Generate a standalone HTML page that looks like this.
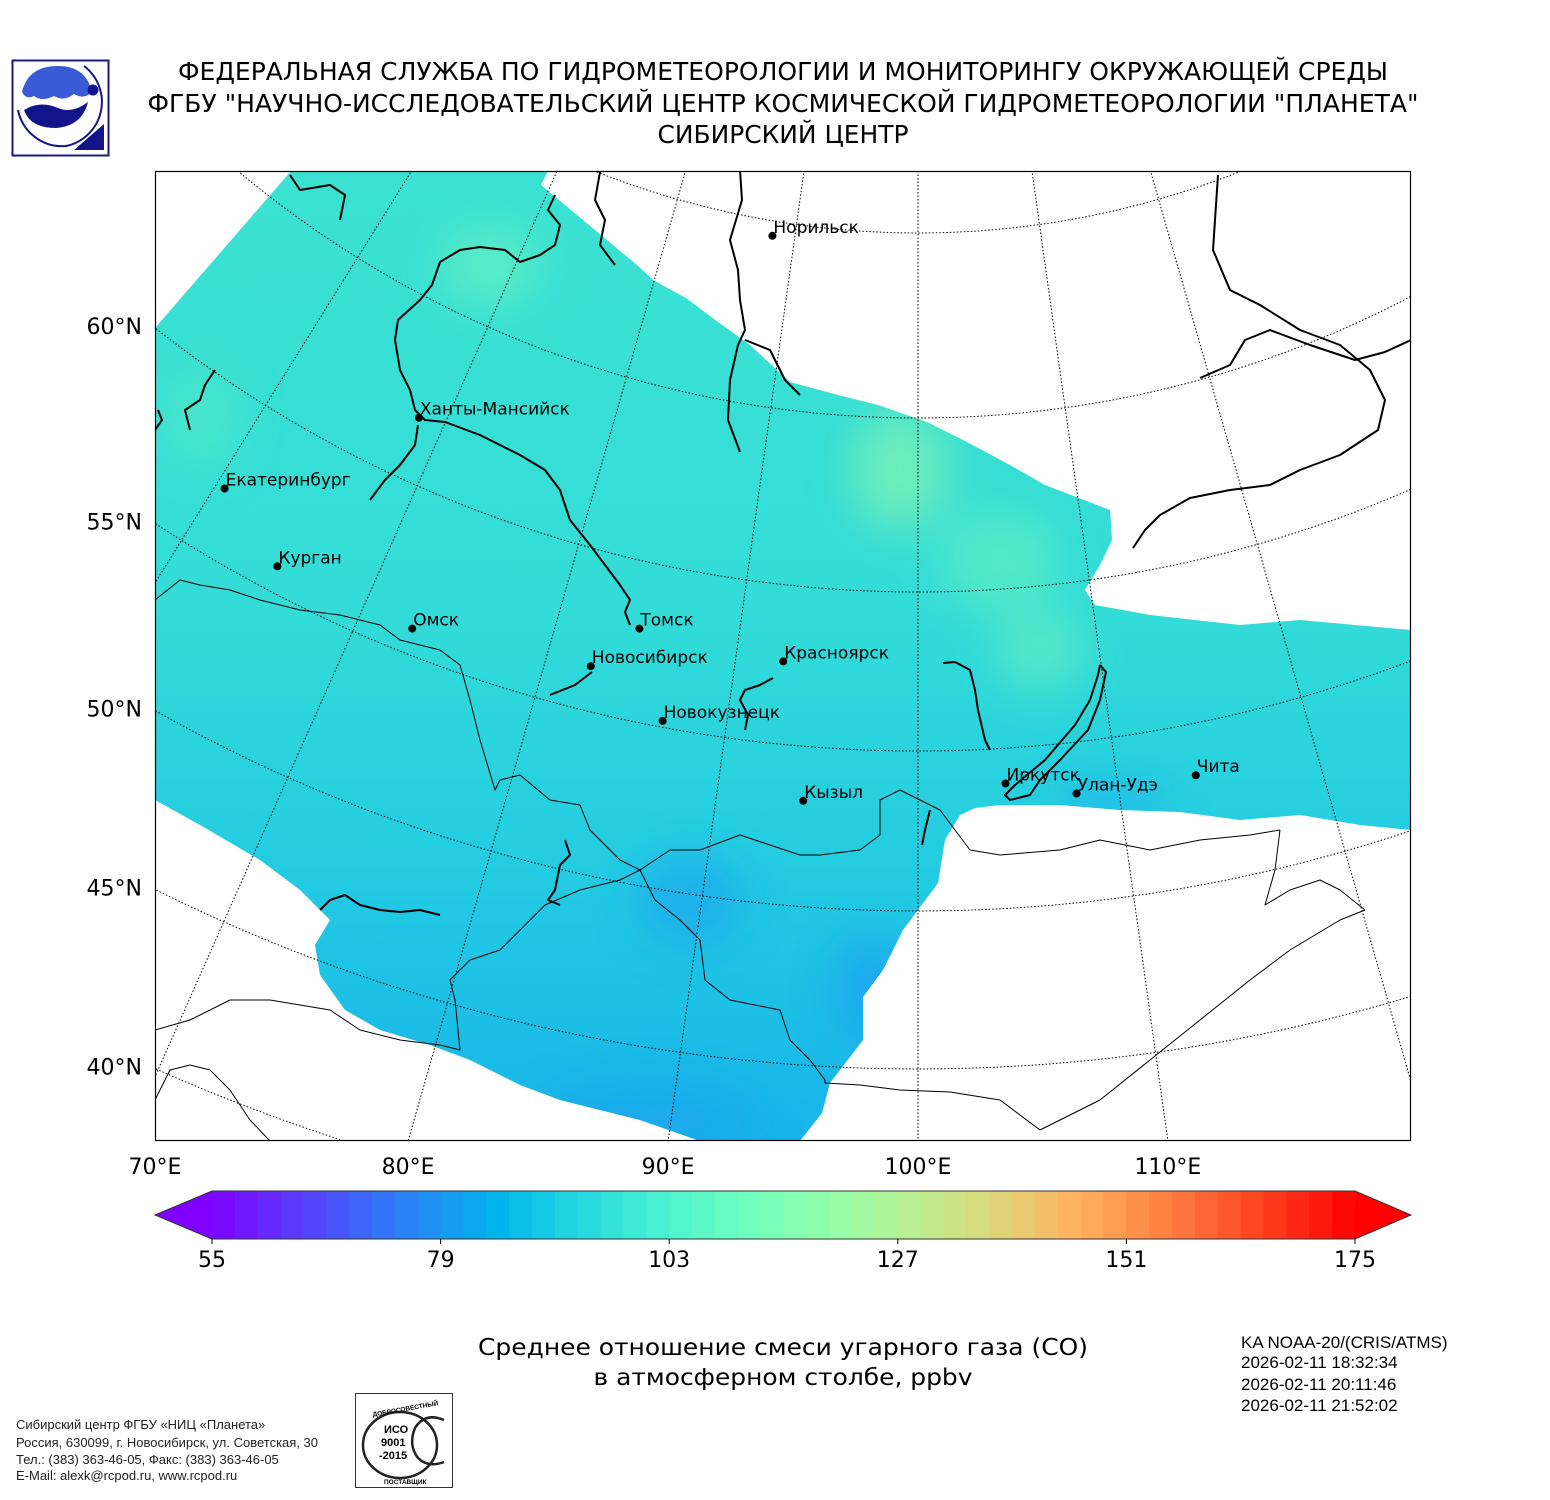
<!DOCTYPE html>
<html><head><meta charset="utf-8">
<style>
html,body{margin:0;padding:0;background:#fff;}
body{width:1550px;height:1500px;overflow:hidden;position:relative;}
svg{position:absolute;left:0;top:0;}
</style></head>
<body>
<svg id="chart" width="1550" height="1500" viewBox="0 0 1550 1500" xmlns="http://www.w3.org/2000/svg">
<defs>
  <linearGradient id="fieldGrad" x1="0" y1="171" x2="0" y2="1141" gradientUnits="userSpaceOnUse">
    <stop offset="0" stop-color="#3be2d2"/>
    <stop offset="0.45" stop-color="#33dcd7"/>
    <stop offset="0.7" stop-color="#24cde1"/>
    <stop offset="1" stop-color="#17b4ea"/>
  </linearGradient>
  <filter id="blur" x="-50%" y="-50%" width="200%" height="200%"><feGaussianBlur stdDeviation="22"/></filter>
  <clipPath id="mapClip"><rect x="155" y="171" width="1256" height="970"/></clipPath>
  <clipPath id="fieldClip"><path id="fieldPathClip" d=""/></clipPath>
</defs>

<g>
  <rect x="12.5" y="60.5" width="96" height="95" fill="#fff" stroke="#1a1a80" stroke-width="2"/>
  <path d="M22 92 Q28 66 58 66 Q86 66 92 92 Q84 100 74 94 Q64 102 54 96 Q42 102 34 96 Q26 100 22 92 Z" fill="#3a5ad8"/>
  <path d="M24 110 Q40 100 58 108 Q72 114 88 102 Q82 126 56 128 Q30 128 24 110 Z" fill="#14148a"/>
  <path d="M84 66 A45 45 0 0 1 66 146 A45 45 0 0 1 18 110" fill="none" stroke="#14148a" stroke-width="2"/>
  <circle cx="93" cy="90" r="5.5" fill="#14148a"/>
  <path d="M104 124 L104 150 L74 150 Z" fill="#14148a"/>
</g>

<g font-family="'DejaVu Sans','Liberation Sans',sans-serif" fill="#000">
  <text x="783" y="80" font-size="24.5" text-anchor="middle" textLength="1210" lengthAdjust="spacingAndGlyphs">ФЕДЕРАЛЬНАЯ СЛУЖБА ПО ГИДРОМЕТЕОРОЛОГИИ И МОНИТОРИНГУ ОКРУЖАЮЩЕЙ СРЕДЫ</text>
  <text x="783" y="112" font-size="24.5" text-anchor="middle" textLength="1271" lengthAdjust="spacingAndGlyphs">ФГБУ "НАУЧНО-ИССЛЕДОВАТЕЛЬСКИЙ ЦЕНТР КОСМИЧЕСКОЙ ГИДРОМЕТЕОРОЛОГИИ "ПЛАНЕТА"</text>
  <text x="783" y="143" font-size="24.5" text-anchor="middle" textLength="251" lengthAdjust="spacingAndGlyphs">СИБИРСКИЙ ЦЕНТР</text>
</g>

<g id="mapArea" clip-path="url(#mapClip)">
  <g id="field" clip-path="url(#fieldClip)">
    <rect x="155" y="171" width="1256" height="970" fill="url(#fieldGrad)"/>
    <g filter="url(#blur)" opacity="0.75">
      <ellipse cx="490" cy="265" rx="50" ry="40" fill="#66f0c2"/>
      <ellipse cx="900" cy="470" rx="50" ry="60" fill="#80f2b4"/>
      <ellipse cx="1000" cy="560" rx="60" ry="50" fill="#5eeec4"/>
      <ellipse cx="1040" cy="650" rx="45" ry="40" fill="#62eec2"/>
      <ellipse cx="200" cy="420" rx="40" ry="50" fill="#50e8c8"/>
      <ellipse cx="690" cy="900" rx="55" ry="45" fill="#1ba8ee"/>
      <ellipse cx="870" cy="990" rx="35" ry="55" fill="#1aa0f0"/>
      <ellipse cx="650" cy="1120" rx="110" ry="35" fill="#1aa4ee"/>
      <ellipse cx="1110" cy="800" rx="60" ry="20" fill="#1ab4ec"/>
    </g>
  </g>
  <g id="grid"></g>
  <g id="coast" fill="none" stroke="#000" stroke-linejoin="round">
    <polyline stroke-width="2" points="395,340 398,320 420,300 432,285 440,262 460,250 480,247 505,250 520,262 540,255 555,245 560,225 548,210 555,195"/>
    <polyline stroke-width="2" points="395,340 400,370 410,390 415,410 425,420 445,422 480,435 520,455 545,470 560,490 570,520 590,545 605,565 620,585 630,600 625,612 630,625"/>
    <polyline stroke-width="2" points="418,425 415,445 400,465 385,480 370,500"/>
    <polyline stroke-width="2" points="740,170 742,200 730,240 738,270 740,300 745,330 738,345 730,380 728,420 740,452"/>
    <polyline stroke-width="2" points="600,172 595,200 605,220 600,245 615,265"/>
    <polyline stroke-width="2" points="745,340 770,350 785,380 800,395"/>
    <polyline stroke-width="2" points="290,175 300,190 330,185 345,195 340,220"/>
    <polyline stroke-width="2" points="1218,175 1213,250 1230,290 1260,305 1300,330 1340,345 1370,370 1385,400 1378,430 1340,455 1300,470 1270,485 1230,490 1190,498 1160,515 1145,530 1133,548"/>
    <polyline stroke-width="2" points="1411,340 1385,352 1355,360 1310,345 1270,330 1245,340 1230,365 1200,378"/>
    <polyline stroke-width="2" points="943,663 955,662 970,670 975,690 978,710 985,740 990,750"/>
    <polyline stroke-width="2" points="773,678 760,685 745,690 740,700 748,715 745,730"/>
    <polyline stroke-width="2" points="550,695 575,685 592,672"/>
    <polyline stroke-width="2" points="1100,665 1106,672 1100,700 1088,730 1060,760 1040,780 1030,795 1010,800 1005,795 1015,785 1045,760 1075,725 1090,700 1098,675 1100,665"/>
    <polyline stroke-width="2" points="155,430 162,420 158,410"/>
    <polyline stroke-width="2" points="215,370 205,385 200,400 185,410 190,430"/>
    <polyline stroke-width="2" points="565,840 570,855 560,865 555,890 548,900 560,905"/>
    <polyline stroke-width="2" points="320,910 330,900 345,895 360,905 380,910 400,912 420,910 440,915"/>
    <polyline stroke-width="2" points="930,810 925,830 922,845"/>
    <g stroke-width="1">
      <polyline points="155,600 180,580 200,585 230,590 260,600 300,610 340,615 380,625 400,640 440,650 460,665 470,700 480,740 495,790 500,780 520,775 550,800 580,805 590,830 620,860 640,870 670,850 700,850 740,835 770,845 800,855 820,855 860,850 880,835 880,800 900,790 940,810 970,850 1000,855 1060,850 1100,840 1150,850 1200,840 1250,835 1280,830"/>
      <polyline points="640,870 655,900 680,920 700,940 705,980 730,1000 780,1010 790,1040 810,1060 825,1080 825,1083 860,1085 900,1090 950,1092 1000,1100 1040,1130 1060,1120 1100,1100 1150,1060 1200,1020 1250,980 1290,950 1340,920 1365,910"/>
      <polyline points="1280,830 1275,870 1265,905 1290,890 1320,880 1340,890 1365,910"/>
      <polyline points="155,1030 190,1020 230,1000 270,1000 300,1005 330,1010 360,1030 400,1040 440,1045 460,1050 455,1000 450,980 470,960 500,950 520,930 545,905 580,890 620,880 640,870"/>
      <polyline points="155,1100 170,1070 190,1065 210,1070 230,1090 250,1120 270,1141"/>
    </g>
  </g>
  <g id="cities"></g>
</g>
<rect x="155.5" y="171.5" width="1255" height="969" fill="none" stroke="#000" stroke-width="1.2"/>

<g id="axisLabels" font-family="'DejaVu Sans','Liberation Sans',sans-serif" font-size="22" fill="#000"></g>

<g id="colorbar"></g>

<g font-family="'DejaVu Sans','Liberation Sans',sans-serif" font-size="23.5" fill="#000" text-anchor="middle">
  <text x="783" y="1355" textLength="610" lengthAdjust="spacingAndGlyphs">Среднее отношение смеси угарного газа (CO)</text>
  <text x="783" y="1385" textLength="379" lengthAdjust="spacingAndGlyphs">в атмосферном столбе, ppbv</text>
</g>

<g font-family="'Liberation Sans',Arial,sans-serif" font-size="17" fill="#000">
  <text x="1241" y="1348">KA NOAA-20/(CRIS/ATMS)</text>
  <text x="1241" y="1368">2026-02-11 18:32:34</text>
  <text x="1241" y="1390">2026-02-11 20:11:46</text>
  <text x="1241" y="1411">2026-02-11 21:52:02</text>
</g>

<g font-family="'Liberation Sans',Arial,sans-serif" font-size="13" fill="#222">
  <text x="16" y="1429">Сибирский центр ФГБУ «НИЦ «Планета»</text>
  <text x="16" y="1447">Россия, 630099, г. Новосибирск, ул. Советская, 30</text>
  <text x="16" y="1464">Тел.: (383) 363-46-05, Факс: (383) 363-46-05</text>
  <text x="16" y="1480">E-Mail: alexk@rcpod.ru, www.rcpod.ru</text>
</g>

<g>
  <rect x="355.5" y="1393.5" width="97" height="94" fill="#fff" stroke="#333" stroke-width="1"/>
  <ellipse cx="400" cy="1445" rx="37" ry="33" fill="none" stroke="#222" stroke-width="2.5"/>
  <path d="M444 1420 Q425 1412 415 1428 Q408 1445 418 1458 Q428 1468 444 1462" fill="none" stroke="#222" stroke-width="2.5"/>
  <text x="384" y="1433" font-family="'Liberation Sans',sans-serif" font-size="11" font-weight="bold">ИСО</text>
  <text x="381" y="1446" font-family="'Liberation Sans',sans-serif" font-size="11" font-weight="bold">9001</text>
  <text x="379" y="1459" font-family="'Liberation Sans',sans-serif" font-size="11" font-weight="bold">-2015</text>
  <text x="372" y="1411" font-family="'Liberation Sans',sans-serif" font-size="6.5" font-weight="bold" transform="rotate(-10 405 1408)">ДОБРОСОВЕСТНЫЙ</text>
  <text x="384" y="1484" font-family="'Liberation Sans',sans-serif" font-size="6.5" font-weight="bold">ПОСТАВЩИК</text>
</g>
</svg>

<script>
var cityNames = ["Норильск","Ханты-Мансийск","Екатеринбург","Курган","Омск","Томск","Новосибирск","Красноярск","Новокузнецк","Кызыл","Иркутск","Улан-Удэ","Чита"];
var cityLons = [88.2, 68.4, 60.5, 65.0, 72.8, 84.5, 82.4, 92.6, 86.7, 94.3, 104.4, 107.9, 113.9];
var cityLats = [69.6, 61.8, 57.1, 55.8, 55.8, 57.9, 56.4, 57.6, 55.2, 53.3, 53.9, 53.4, 53.4];
var gridLons = [60, 70, 80, 90, 100, 110, 120];
var gridLats = [40, 45, 50, 55, 60, 65, 70];
var gridRadii = [1873, 1711, 1553, 1393, 1234, 1060, 875];
var lonTickLabels = ["70°E","80°E","90°E","100°E","110°E"];
var lonTickValues = [70, 80, 90, 100, 110];
var latTickLabels = ["60°N","55°N","50°N","45°N","40°N"];
var latTickValues = [60, 55, 50, 45, 40];
var cbMin = 55, cbMax = 175;
var cbTicks = [55, 79, 103, 127, 151, 175];
var cbBands = 50;
var fieldOutline = [[291,171],[548,171],[541,185],[589,225],[637,265],[653,280],[686,298],[718,322],[750,345],[790,382],[838,395],[878,405],[927,422],[967,442],[1010,465],[1045,485],[1110,510],[1112,540],[1100,565],[1085,590],[1095,605],[1150,615],[1240,625],[1300,620],[1411,630],[1411,830],[1360,825],[1300,815],[1240,820],[1180,812],[1120,810],[1060,805],[1000,805],[975,808],[960,815],[945,840],[938,883],[903,930],[883,970],[863,997],[863,1040],[830,1083],[822,1113],[800,1141],[700,1141],[640,1120],[560,1100],[520,1085],[470,1060],[430,1045],[380,1030],[345,1010],[320,975],[315,945],[330,920],[300,890],[260,860],[200,825],[155,800],[155,328]];

var AX = 918, AY = -642, DEG_PER_LON = 0.798;
function radiusOf(lat){
  for (var i=0;i<gridLats.length-1;i++){
    if (lat <= gridLats[i+1] || i === gridLats.length-2){
      var t = (lat - gridLats[i])/(gridLats[i+1]-gridLats[i]);
      return gridRadii[i] + t*(gridRadii[i+1]-gridRadii[i]);
    }
  }
}
function proj(lon, lat){
  var th = (lon-100)*DEG_PER_LON*Math.PI/180, R = radiusOf(lat);
  return [AX + R*Math.sin(th), AY + R*Math.cos(th)];
}
var NS = "http://www.w3.org/2000/svg";
function mk(tag, attrs, parent){
  var e = document.createElementNS(NS, tag);
  for (var k in attrs) e.setAttribute(k, attrs[k]);
  parent.appendChild(e); return e;
}

var d = "M" + fieldOutline.map(function(p){return p[0]+","+p[1];}).join("L") + "Z";
document.getElementById("fieldPathClip").setAttribute("d", d);

var grid = document.getElementById("grid");
gridLats.forEach(function(lat){
  var pts = [];
  for (var lon=40; lon<=160; lon+=1){ var p = proj(lon, lat); pts.push(p[0].toFixed(1)+","+p[1].toFixed(1)); }
  var pl = mk("polyline", {points: pts.join(" "), fill:"none", stroke:"#000", "stroke-width":"1", "stroke-dasharray":"1.5,2"}, grid);
  
  
});
gridLons.forEach(function(lon){
  var pts = [];
  for (var lat=30; lat<=80; lat+=2){ var p = proj(lon, lat); pts.push(p[0].toFixed(1)+","+p[1].toFixed(1)); }
  var pl = mk("polyline", {points: pts.join(" "), fill:"none", stroke:"#000", "stroke-width":"1", "stroke-dasharray":"1.5,2"}, grid);
  
  
});

var ax = document.getElementById("axisLabels");
function xAtBottom(lon){
  var th = (lon-100)*DEG_PER_LON*Math.PI/180;
  return AX + (1141-AY)*Math.tan(th);
}
lonTickValues.forEach(function(v,i){
  var x = Math.max(155, xAtBottom(v));
  var t = mk("text", {x: x.toFixed(1), y: 1174, "text-anchor":"middle"}, ax);
  t.textContent = lonTickLabels[i];
  
  
});
function yAtLeft(lat){
  var R = radiusOf(lat), dx = 155-AX;
  return AY + Math.sqrt(R*R - dx*dx);
}
latTickValues.forEach(function(v,i){
  var t = mk("text", {x: 142, y: (yAtLeft(v)+6).toFixed(1), "text-anchor":"end"}, ax);
  t.textContent = latTickLabels[i];
  
  
});

var cg = document.getElementById("cities");
cityNames.forEach(function(n,i){
  var p = proj(cityLons[i], cityLats[i]);
  var c = mk("circle", {cx:p[0].toFixed(1), cy:p[1].toFixed(1), r:4, fill:"#000"}, cg);
  
  
  var t = mk("text", {x:(p[0]+1).toFixed(1), y:(p[1]-3).toFixed(1), "font-family":"'DejaVu Sans','Liberation Sans',sans-serif", "font-size":"17", fill:"#000"}, cg);
  t.textContent = n;
  
  
});

function rainbow(x){
  var r = Math.min(1, Math.abs(2*x-0.5)), g = Math.sin(Math.PI*x), b = Math.cos(Math.PI*x/2);
  return "rgb("+Math.round(r*255)+","+Math.round(g*255)+","+Math.round(Math.max(0,b)*255)+")";
}
var cb = document.getElementById("colorbar");
var CBX0 = 212, CBX1 = 1355, CBY0 = 1191, CBY1 = 1239;
function cbX(v){ return CBX0 + (v-cbMin)/(cbMax-cbMin)*(CBX1-CBX0); }
var lt = mk("polygon", {points: "155,1215 "+CBX0+","+CBY0+" "+CBX0+","+CBY1, fill: rainbow(0)}, cb);


var rt = mk("polygon", {points: "1411,1215 "+CBX1+","+CBY0+" "+CBX1+","+CBY1, fill: rainbow(1)}, cb);


for (var i=0;i<cbBands;i++){
  var v0 = cbMin + i*(cbMax-cbMin)/cbBands, v1 = cbMin + (i+1)*(cbMax-cbMin)/cbBands;
  var r = mk("rect", {x: cbX(v0).toFixed(2), y: CBY0, width: (cbX(v1)-cbX(v0)+0.6).toFixed(2), height: CBY1-CBY0, fill: rainbow((i+0.5)/cbBands)}, cb);
  
  
}
var ol = mk("polygon", {points: "155,1215 "+CBX0+","+CBY0+" "+CBX1+","+CBY0+" 1411,1215 "+CBX1+","+CBY1+" "+CBX0+","+CBY1, fill:"none", stroke:"#333", "stroke-width":"1"}, cb);


cbTicks.forEach(function(v){
  var x = cbX(v);
  var tk = mk("line", {x1:x, x2:x, y1:CBY1, y2:CBY1+5, stroke:"#000", "stroke-width":"1"}, cb);
  
  
  var t = mk("text", {x:x.toFixed(1), y:1267, "text-anchor":"middle", "font-family":"'DejaVu Sans','Liberation Sans',sans-serif", "font-size":"22", fill:"#000"}, cb);
  t.textContent = String(v);
  
  
});
</script>
</body></html>
